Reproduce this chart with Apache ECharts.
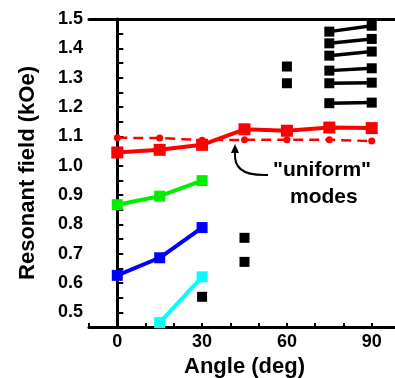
<!DOCTYPE html>
<html>
<head>
<meta charset="utf-8">
<script src="https://cdn.jsdelivr.net/npm/echarts@6/dist/echarts.min.js"></script>
<style>
  html, body { margin: 0; padding: 0; background: #fff; }
  #chart { width: 395px; height: 378px; }
</style>
</head>
<body>
<div id="chart"></div>
<script>
// Resonant field vs. field angle for the magnetic modes
const redSolid   = [[0, 1.045], [15, 1.054], [30, 1.071], [45, 1.124], [60, 1.119], [75, 1.130], [90, 1.128]];
const redDashed  = [[0, 1.095], [15, 1.094], [30, 1.087], [45, 1.088], [60, 1.088], [75, 1.088], [90, 1.084]];
const greenMode  = [[0, 0.867], [15, 0.896], [30, 0.949]];
const blueMode   = [[0, 0.626], [15, 0.686], [30, 0.789]];
const cyanMode   = [[15, 0.465], [30, 0.621]];
const blackSingles = [[30, 0.553], [45, 0.754], [45, 0.672], [60, 1.338], [60, 1.281]];
// pairs of modes connected between 75 and 90 deg: [field at 75, field at 90]
const blackPairs = [
  [1.457, 1.477],
  [1.417, 1.432],
  [1.375, 1.389],
  [1.324, 1.332],
  [1.281, 1.283],
  [1.213, 1.215]
];
const pairAngles = [75, 90];
const annotationLines = ['"uniform"', 'modes'];

const FONT = 'Arial, "Liberation Sans", sans-serif';

const chart = echarts.init(document.getElementById('chart'), null, { renderer: 'canvas' });

function lineSeries(data, color, opts) {
  return Object.assign({
    type: 'line',
    data: data,
    symbol: 'rect',
    symbolSize: 11,
    lineStyle: { color: color, width: 4 },
    itemStyle: { color: color, opacity: 1 },
    z: 3,
    animation: false
  }, opts || {});
}

const series = [
  lineSeries(redDashed, '#ff0000', { symbol: 'circle', symbolSize: 7, lineStyle: { color: '#ff0000', width: 2.5, type: [10, 6] } }),
  lineSeries(redSolid, '#ff0000', { symbolSize: 12 }),
  lineSeries(greenMode, '#00ee00'),
  lineSeries(blueMode, '#0000ff'),
  lineSeries(cyanMode, '#00ffff'),
  { type: 'scatter', data: blackSingles, symbol: 'rect', symbolSize: 10, itemStyle: { color: '#000', opacity: 1 }, animation: false }
];
blackPairs.forEach(function (p) {
  series.push(lineSeries([[pairAngles[0], p[0]], [pairAngles[1], p[1]]], '#000', { symbolSize: 10, lineStyle: { color: '#000', width: 3.5 } }));
});

const isMajorY = v => Math.abs(v * 10 - Math.round(v * 10)) < 1e-6;

chart.setOption({
  animation: false,
  grid: { left: 89, top: 19, width: 311, bottom: 51, outerBoundsMode: 'none', containLabel: false },
  xAxis: [{
    type: 'value', min: -10, max: 100, interval: 10,
    name: 'Angle (deg)', nameLocation: 'middle', nameGap: 28,
    nameTextStyle: { fontFamily: FONT, fontWeight: 'bold', fontSize: 22, color: '#000' },
    axisLine: { lineStyle: { color: '#000', width: 3 } },
    axisTick: { inside: true, length: 4, lineStyle: { color: '#000', width: 2 } },
    axisLabel: {
      margin: 6, fontFamily: FONT, fontWeight: 'bold', fontSize: 18, color: '#000',
      formatter: v => (Math.round(v) % 30 === 0 && v >= 0 && v <= 90) ? String(Math.round(v)) : ''
    },
    splitLine: { show: false }
  }, {
    type: 'value', min: -10, max: 100, position: 'top',
    axisLine: { lineStyle: { color: '#000', width: 3 } },
    axisTick: { show: false }, axisLabel: { show: false }, splitLine: { show: false }
  }],
  yAxis: {
    type: 'value', min: 0.45, max: 1.5, interval: 0.05,
    name: 'Resonant field (kOe)', nameLocation: 'middle', nameGap: 50,
    nameTextStyle: { fontFamily: FONT, fontWeight: 'bold', fontSize: 22, color: '#000' },
    axisLine: { lineStyle: { color: '#000', width: 3 } },
    axisTick: { inside: true, length: 6, lineStyle: { color: '#000', width: 2 } },
    axisLabel: {
      margin: 6, fontFamily: FONT, fontWeight: 'bold', fontSize: 18, color: '#000',
      formatter: v => isMajorY(v) ? v.toFixed(1) : ''
    },
    splitLine: { show: false }
  },
  series: series,
  graphic: [
    {
      type: 'text', left: 273, top: 160, z: 10,
      style: { text: annotationLines[0], fontFamily: FONT, fontWeight: 'bold', fontSize: 21, fill: '#000' }
    },
    {
      type: 'text', left: 290, top: 187, z: 10,
      style: { text: annotationLines[1], fontFamily: FONT, fontWeight: 'bold', fontSize: 21, fill: '#000' }
    },
    {
      type: 'bezierCurve', z: 10,
      shape: { x1: 268, y1: 175, cpx1: 240, cpy1: 176, cpx2: 234, cpy2: 166, x2: 235, y2: 152 },
      style: { stroke: '#000', lineWidth: 2, fill: null }
    },
    {
      type: 'polygon', z: 10,
      shape: { points: [[235, 144], [231, 153], [239, 153]] },
      style: { fill: '#000' }
    }
  ]
});
</script>
</body>
</html>
